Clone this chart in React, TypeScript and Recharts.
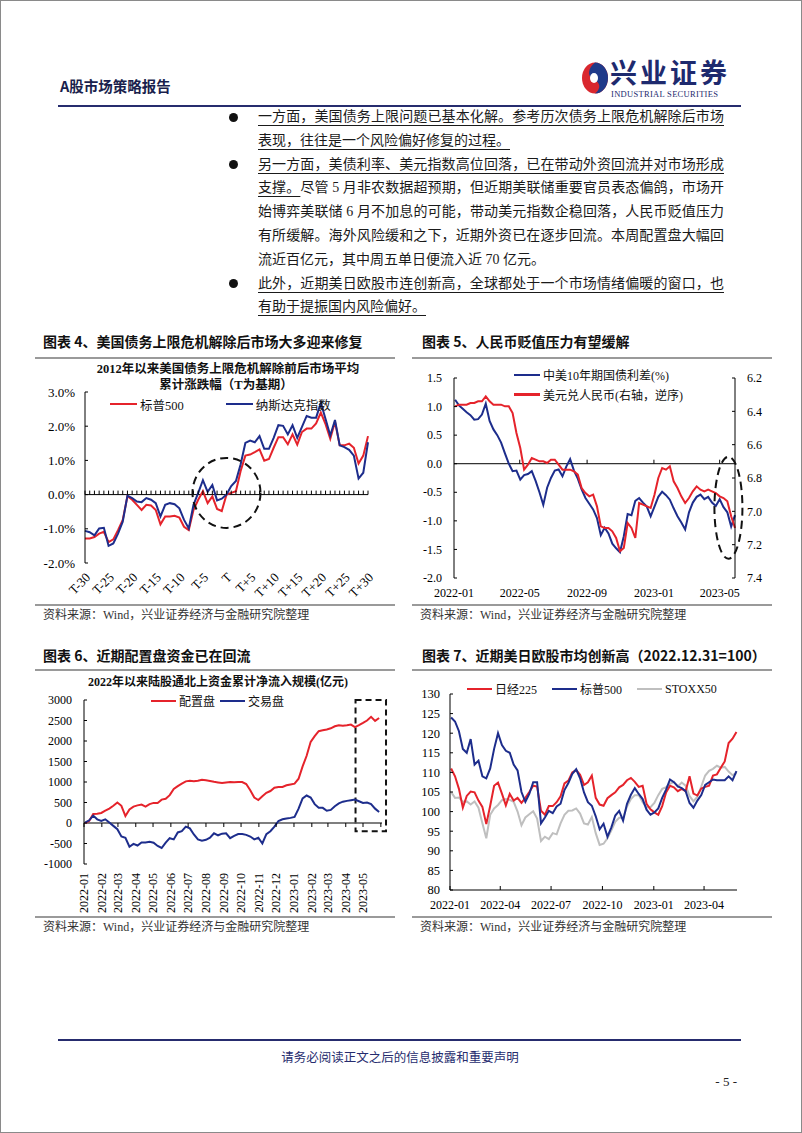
import React from 'react';
import { LineChart, Line, XAxis, YAxis, ReferenceLine, ReferenceDot, ReferenceArea, Legend } from 'recharts';

const SERIF = '"Liberation Serif", "Noto Sans CJK SC", serif';
const HEI = '"Noto Sans CJK SC", "Liberation Serif", sans-serif';
const RED = '#e5232b';
const BLUE = '#1d2d8c';
const GREY = '#bfbfbf';
const NAVY = '#262c6e';

// 图表4：T 为基期，前后 30 个交易日
const tDays = [
  'T-30', 'T-29', 'T-28', 'T-27', 'T-26', 'T-25', 'T-24', 'T-23', 'T-22', 'T-21',
  'T-20', 'T-19', 'T-18', 'T-17', 'T-16', 'T-15', 'T-14', 'T-13', 'T-12', 'T-11',
  'T-10', 'T-9', 'T-8', 'T-7', 'T-6', 'T-5', 'T-4', 'T-3', 'T-2', 'T-1',
  'T', 'T+1', 'T+2', 'T+3', 'T+4', 'T+5', 'T+6', 'T+7', 'T+8', 'T+9',
  'T+10', 'T+11', 'T+12', 'T+13', 'T+14', 'T+15', 'T+16', 'T+17', 'T+18', 'T+19',
  'T+20', 'T+21', 'T+22', 'T+23', 'T+24', 'T+25', 'T+26', 'T+27', 'T+28', 'T+29', 'T+30',
];
const sp500Cum = [
  -1.28, -1.28, -1.24, -1.14, -1.09, -1.39, -1.31, -1.04, -0.74, -0.05,
  -0.15, -0.3, -0.45, -0.3, -0.32, -0.45, -0.87, -0.64, -0.64, -0.62,
  -0.67, -0.94, -1.04, -0.45, -0.15, 0.1, -0.25, -0.05, -0.42, -0.48,
  0, 0.05, 0.1, 0.69, 1.14, 1.17, 1.24, 1.32, 0.99, 1.04,
  1.37, 1.68, 1.68, 1.47, 1.76, 1.46, 1.83, 1.93, 1.93, 2.08,
  2.4, 2.06, 1.63, 2.13, 1.44, 1.44, 1.49, 1.37, 0.91, 1.14, 1.71,
];
const nasdaqCum = [
  -1.06, -1.1, -1.19, -0.99, -0.97, -1.5, -1.43, -1.14, -0.79, -0.03,
  -0.1, -0.2, -0.22, -0.1, -0.15, -0.25, -0.64, -0.3, -0.25, -0.28,
  -0.4, -0.74, -0.99, -0.3, 0.05, 0.42, 0.08, 0.28, -0.17, -0.12,
  0, 0.25, 0.4, 0.89, 1.51, 1.58, 1.53, 1.71, 1.34, 1.34,
  1.66, 2.03, 2.01, 1.76, 2.03, 1.66, 1.98, 2.3, 2.25, 2.25,
  2.69, 2.21, 1.73, 2.18, 1.44, 1.39, 1.31, 1.14, 0.47, 0.64, 1.53,
];

// 图表5/6/7 共用的周度日期
const weeks = [
  '2022-01-03', '2022-01-10', '2022-01-17', '2022-01-24', '2022-01-31', '2022-02-07', '2022-02-14', '2022-02-21', '2022-02-28', '2022-03-07',
  '2022-03-14', '2022-03-21', '2022-03-28', '2022-04-04', '2022-04-11', '2022-04-18', '2022-04-25', '2022-05-02', '2022-05-09', '2022-05-16',
  '2022-05-23', '2022-05-30', '2022-06-06', '2022-06-13', '2022-06-20', '2022-06-27', '2022-07-04', '2022-07-11', '2022-07-18', '2022-07-25',
  '2022-08-01', '2022-08-08', '2022-08-15', '2022-08-22', '2022-08-29', '2022-09-05', '2022-09-12', '2022-09-19', '2022-09-26', '2022-10-03',
  '2022-10-10', '2022-10-17', '2022-10-24', '2022-10-31', '2022-11-07', '2022-11-14', '2022-11-21', '2022-11-28', '2022-12-05', '2022-12-12',
  '2022-12-19', '2022-12-26', '2023-01-02', '2023-01-09', '2023-01-16', '2023-01-23', '2023-01-30', '2023-02-06', '2023-02-13', '2023-02-20',
  '2023-02-27', '2023-03-06', '2023-03-13', '2023-03-20', '2023-03-27', '2023-04-03', '2023-04-10', '2023-04-17', '2023-04-24', '2023-05-01',
  '2023-05-08', '2023-05-15', '2023-05-22', '2023-05-29',
];

// 图表5
const spread10y = [
  1.12, 1.02, 0.96, 0.9, 0.85, 0.77, 0.78, 0.86, 1.05, 0.75,
  0.6, 0.5, 0.37, 0.18, 0, -0.13, -0.12, -0.28, -0.2, -0.18,
  -0.13, -0.3, -0.5, -0.72, -0.42, -0.25, -0.12, -0.1, -0.22, -0.05,
  0.08, -0.12, -0.26, -0.45, -0.6, -0.7, -0.8, -0.95, -1.25, -1.12,
  -1.22, -1.4, -1.48, -1.55, -1.27, -0.88, -0.9, -0.65, -0.6, -0.68,
  -0.75, -0.92, -0.75, -0.58, -0.49, -0.55, -0.63, -0.78, -0.92, -1.03,
  -1.15, -0.85, -0.68, -0.58, -0.54, -0.62, -0.58, -0.68, -0.74, -0.62,
  -0.76, -0.85, -1.1, -0.9,
];
const usdCny = [
  6.37, 6.36, 6.36, 6.36, 6.35, 6.35, 6.34, 6.34, 6.31, 6.34,
  6.36, 6.36, 6.36, 6.37, 6.37, 6.41, 6.53, 6.62, 6.75, 6.72,
  6.68, 6.69, 6.7, 6.7, 6.71, 6.69, 6.69, 6.72, 6.75, 6.75,
  6.75, 6.76, 6.78, 6.86, 6.89, 6.91, 6.9, 6.97, 7.09, 7.1,
  7.1, 7.12, 7.16, 7.24, 7.22, 7.07, 7.1, 7.16, 6.95, 6.96,
  6.97, 6.98, 6.9, 6.8, 6.74, 6.75, 6.73, 6.82, 6.86, 6.91,
  6.95, 6.92, 6.88, 6.85, 6.87, 6.88, 6.87, 6.88, 6.89, 6.91,
  6.92, 6.94, 7.03, 7.1,
];
const c5Ticks = ['2022-01', '2022-05', '2022-09', '2023-01', '2023-05'];

// 图表6
const allocFlow = [
  0, 50, 220, 225, 245, 300, 350, 420, 500, 420,
  170, 330, 400, 430, 450, 400, 460, 490, 490, 570,
  590, 680, 830, 900, 960, 1015, 1030, 1020, 1030, 1055,
  1040, 1025, 1005, 990, 975, 990, 1000, 995, 1000, 1000,
  950, 800, 620, 560, 650, 735, 780, 860, 880, 880,
  920, 940, 960, 1080, 1380, 1640, 1980, 2120, 2240, 2260,
  2280, 2310, 2360, 2385, 2375, 2385, 2400, 2340, 2385, 2440,
  2500, 2590, 2490, 2560,
];
const tradeFlow = [
  10, 65, 180, 90, 50, 90, 10, -70, -150, -330,
  -360, -580, -510, -550, -475, -475, -460, -480, -560, -610,
  -480, -370, -400, -230, -200, -90, -130, -280, -400, -430,
  -410, -360, -250, -300, -260, -250, -370, -315, -270, -270,
  -290, -330, -400, -360, -500, -270, -200, -90, 50, 90,
  110, 125, 150, 350, 600, 670, 620, 460, 370, 370,
  300, 320, 410, 480, 520, 540, 555, 570, 530, 490,
  500, 460, 350, 270,
];
const c6Months = [
  '2022-01', '2022-02', '2022-03', '2022-04', '2022-05', '2022-06', '2022-07', '2022-08', '2022-09',
  '2022-10', '2022-11', '2022-12', '2023-01', '2023-02', '2023-03', '2023-04', '2023-05', '2023-06',
];

// 图表7
const n225 = [
  111.0, 109.0, 105.8, 101.0, 104.0, 105.1, 104.9, 102.8, 101.2, 96.8,
  101.5, 106.6, 107.4, 104.6, 101.6, 104.5, 102.8, 103.5, 102.2, 103.5,
  105.0, 106.6, 106.4, 100.2, 99.2, 101.4, 101.4, 102.4, 103.9, 107.2,
  107.9, 110.0, 110.6, 109.4, 106.8, 107.5, 109.2, 103.5, 101.8, 101.5,
  103.4, 104.2, 104.9, 106.2, 106.8, 108.0, 108.6, 107.6, 106.3, 106.6,
  102.0, 100.6, 99.8, 99.2, 101.4, 104.9, 106.6, 106.2, 105.2, 105.8,
  105.2, 109.0, 104.6, 104.1, 105.9, 106.3, 106.6, 109.2, 109.5, 111.2,
  112.8, 117.5, 118.6, 120.3,
];
const spx = [
  124.0, 123.0, 120.5, 116.0, 115.0, 118.5, 112.0, 113.0, 109.0, 108.5,
  111.0, 116.0, 120.0, 117.0, 115.5, 115.0, 112.0, 110.5, 105.0, 102.5,
  104.5, 107.5, 107.5, 97.0, 98.5, 100.2, 99.6, 101.3, 102.0, 105.5,
  107.3, 109.6, 110.8, 108.5, 104.9, 102.4, 101.5, 98.8, 95.5, 96.9,
  93.6, 96.0, 99.0, 100.2, 97.7, 102.0, 104.3, 106.0, 104.5, 103.2,
  100.5, 99.2, 99.8, 100.8, 103.5, 105.6, 108.2, 107.5, 106.4, 106.0,
  105.2, 102.2, 101.0, 102.8, 104.2, 106.8, 107.5, 108.2, 108.0, 108.0,
  108.0, 109.0, 108.0, 110.3,
];
const stoxx50 = [
  105.0, 103.5, 103.6, 102.5, 102.6, 101.8, 102.6, 101.0, 97.0, 93.2,
  99.2, 100.8, 101.7, 102.9, 103.2, 103.0, 102.5, 100.0, 96.5, 98.5,
  99.3, 100.1, 98.2, 92.5, 93.6, 93.0, 94.5, 94.2, 97.0, 99.2,
  100.2, 100.3, 100.8, 99.5, 97.0, 96.7, 98.6, 94.5, 91.5, 91.8,
  93.2, 95.2, 97.4, 98.4, 98.4, 101.3, 103.2, 104.2, 104.2, 102.4,
  101.1, 101.1, 102.2, 104.2, 105.8, 106.2, 107.1, 107.6, 106.4, 107.4,
  106.6, 104.0, 102.6, 103.8, 106.4, 109.2, 110.4, 110.9, 111.7, 111.2,
  111.4, 110.2, 109.3, 109.8,
];
const c7Ticks = ['2022-01', '2022-04', '2022-07', '2022-10', '2023-01', '2023-04'];

const toTs = (s: string) => {
  const [y, m, d] = s.split('-').map(Number);
  return Date.UTC(y, m - 1, d || 1);
};
const ym = (t: number) => {
  const d = new Date(t);
  return `${d.getUTCFullYear()}-${String(d.getUTCMonth() + 1).padStart(2, '0')}`;
};

// ---- 刻度与标注 ----
const yTick = (side: 'left' | 'right', off: number, fmt: (v: number) => string, fs = 12) => (p: any) => {
  const s = side === 'left' ? 1 : -1;
  return (
    <g>
      <line x1={p.x} x2={p.x + s * 3} y1={p.y} y2={p.y} stroke="#000" />
      <text x={p.x - s * off} y={p.y} dy="0.35em" textAnchor={side === 'left' ? 'end' : 'start'}
        fontSize={fs} fontFamily={SERIF} fill="#000">{fmt(p.payload.value)}</text>
    </g>
  );
};
const diagTick = (p: any) => (
  <text transform={`rotate(-45 ${p.x + 3} ${p.y + 12})`} x={p.x + 3} y={p.y + 12} dy="0.35em"
    textAnchor="end" fontSize={13} fontFamily={SERIF} fill="#000">{p.payload.value}</text>
);
const vertTick = (p: any) => (
  <text transform={`rotate(-90 ${p.x + 4} ${p.y + 9})`} x={p.x + 4} y={p.y + 9}
    textAnchor="end" fontSize={12} fontFamily={SERIF} fill="#000">{ym(p.payload.value)}</text>
);
const dateTick = (dy: number, mark: boolean) => (p: any) => (
  <g>
    {mark && <line x1={p.x} x2={p.x} y1={p.y} y2={p.y - 4} stroke="#000" />}
    <text x={p.x} y={p.y + dy} dy="0.35em" textAnchor="middle" fontSize={12} fontFamily={SERIF} fill="#000">
      {ym(p.payload.value)}
    </text>
  </g>
);
const tickMark = (len: number) => (p: any) => (
  <line x1={p.cx} x2={p.cx} y1={p.cy} y2={p.cy + len} stroke="#000" strokeWidth={1} />
);
const dashedEllipse = (rx: number, ry: number) => (p: any) => (
  <ellipse cx={p.cx} cy={p.cy} rx={rx} ry={ry} fill="none" stroke="#111" strokeWidth={2} strokeDasharray="8 5" />
);

const legendContent = (order: string[], o: { sample: number; gap: number; fs: number; vertical?: boolean }) => (props: any) => {
  const pl = props.payload || [];
  const items = order.map((n) => pl.find((p: any) => p.value === n)).filter(Boolean);
  return (
    <div style={{ display: 'flex', flexDirection: o.vertical ? 'column' : 'row', gap: o.gap,
      fontFamily: SERIF, fontSize: o.fs, color: '#111', whiteSpace: 'nowrap' }}>
      {items.map((p: any) => (
        <div key={p.value} style={{ display: 'flex', alignItems: 'center', height: 16 }}>
          <div style={{ width: o.sample, height: 2.5, background: p.color }} />
          <span style={{ marginLeft: 3 }}>{p.value}</span>
        </div>
      ))}
    </div>
  );
};

const abs = (left: number, top: number): React.CSSProperties => ({ position: 'absolute', left, top });

function Chart4() {
  const data = tDays.map((t, i) => ({ t, spx: sp500Cum[i], ndx: nasdaqCum[i] }));
  return (
    <div style={abs(30, 385)}>
      <LineChart width={360} height={215} data={data} margin={{ top: 7, right: 22, bottom: 2, left: 5 }}>
        <XAxis dataKey="t" interval={4} axisLine={false} tickLine={false} tickSize={0} tickMargin={0} height={35} tick={diagTick} />
        <YAxis domain={[-2, 3]} ticks={[-2, -1, 0, 1, 2, 3]} interval={0} width={50} axisLine={{ stroke: '#000' }}
          tickLine={false} tickSize={0} tickMargin={0} tick={yTick('left', 10, (v) => v.toFixed(1) + '%', 13)} />
        <ReferenceLine y={0} stroke="#000" />
        {tDays.map((t) => <ReferenceDot key={t} x={t} y={0} r={0} shape={tickMark(-4)} />)}
        <ReferenceDot x="T" y={0.05} r={0} shape={dashedEllipse(34, 35)} />
        <Line dataKey="spx" name="标普500" stroke={RED} strokeWidth={2} dot={false} isAnimationActive={false} />
        <Line dataKey="ndx" name="纳斯达克指数" stroke={BLUE} strokeWidth={2} dot={false} isAnimationActive={false} />
        <Legend verticalAlign="middle" align="center" layout="horizontal"
          content={legendContent(['标普500', '纳斯达克指数'], { sample: 27, gap: 42, fs: 12.5 })}
          wrapperStyle={{ left: 80, top: 11, width: 'auto', height: 'auto' }} />
      </LineChart>
    </div>
  );
}

function Chart5() {
  const data = weeks.map((w, i) => ({ t: toTs(w), spread: spread10y[i], fx: usdCny[i] }));
  return (
    <div style={abs(400, 366)}>
      <LineChart width={400} height={240} data={data} margin={{ top: 12, right: 20, bottom: 3, left: 9 }}>
        <XAxis type="number" dataKey="t" domain={[toTs('2022-01-01'), toTs('2023-05-29')]}
          ticks={c5Ticks.map((m) => toTs(m))} interval={0} axisLine={false} tickLine={false}
          tickSize={0} tickMargin={0} height={25} tick={dateTick(15, false)} />
        <YAxis yAxisId="left" domain={[-2, 1.5]} ticks={[-2, -1.5, -1, -0.5, 0, 0.5, 1, 1.5]} interval={0} width={45}
          axisLine={{ stroke: '#000' }} tickLine={false} tickSize={0} tickMargin={0}
          tick={yTick('left', 12, (v) => v.toFixed(1))} />
        <YAxis yAxisId="right" orientation="right" reversed domain={[6.2, 7.4]} interval={0}
          ticks={[6.2, 6.4, 6.6, 6.8, 7.0, 7.2, 7.4]} width={45} axisLine={{ stroke: '#000' }}
          tickLine={false} tickSize={0} tickMargin={0} tick={yTick('right', 12, (v) => v.toFixed(1))} />
        <ReferenceLine yAxisId="left" y={0} stroke="#000" />
        {c5Ticks.slice(1).map((m) => (
          <ReferenceDot key={m} yAxisId="left" x={toTs(m)} y={0} r={0} shape={tickMark(-4)} />
        ))}
        <ReferenceDot yAxisId="left" x={toTs('2023-05-17')} y={-0.77} r={0} shape={dashedEllipse(14, 51)} />
        <Line yAxisId="left" dataKey="spread" name="中美10年期国债利差(%)" stroke={BLUE} strokeWidth={2}
          dot={false} isAnimationActive={false} />
        <Line yAxisId="right" dataKey="fx" name="美元兑人民币(右轴，逆序)" stroke={RED} strokeWidth={2}
          dot={false} isAnimationActive={false} />
        <Legend verticalAlign="middle" align="center" layout="horizontal"
          content={legendContent(['中美10年期国债利差(%)', '美元兑人民币(右轴，逆序)'], { sample: 26, gap: 3.5, fs: 12, vertical: true })}
          wrapperStyle={{ left: 114, top: 1, width: 'auto', height: 'auto' }} />
      </LineChart>
    </div>
  );
}

function Chart6() {
  const data = weeks.map((w, i) => ({ t: toTs(w), alloc: allocFlow[i], trade: tradeFlow[i] }));
  return (
    <div style={abs(30, 691)}>
      <LineChart width={372} height={225} data={data} margin={{ top: 9, right: 20, bottom: 2, left: 5 }}>
        <XAxis type="number" dataKey="t" domain={[toTs('2022-01-01'), toTs('2023-06-03')]}
          ticks={c6Months.slice(0, 17).map((m) => toTs(m))} interval={0} axisLine={false} tickLine={false}
          tickSize={0} tickMargin={0} height={50} tick={vertTick} />
        <YAxis domain={[-1000, 3000]} ticks={[-1000, -500, 0, 500, 1000, 1500, 2000, 2500, 3000]} interval={0} width={49}
          axisLine={{ stroke: '#000' }} tickLine={false} tickSize={0} tickMargin={0}
          tick={yTick('left', 12, (v) => String(v))} />
        <ReferenceLine y={0} stroke="#555" strokeWidth={1.5} />
        {c6Months.map((m) => <ReferenceDot key={m} x={toTs(m)} y={0} r={0} shape={tickMark(4)} />)}
        <ReferenceArea x1={toTs('2023-04-18')} x2={toTs('2023-06-10')} y1={-200} y2={3000} ifOverflow="visible"
          fill="none" fillOpacity={0} stroke="#111" strokeWidth={2} strokeDasharray="6 4" />
        <Line dataKey="alloc" name="配置盘" stroke={RED} strokeWidth={2} dot={false} isAnimationActive={false} />
        <Line dataKey="trade" name="交易盘" stroke={BLUE} strokeWidth={2} dot={false} isAnimationActive={false} />
        <Legend verticalAlign="middle" align="center" layout="horizontal"
          content={legendContent(['配置盘', '交易盘'], { sample: 25, gap: 5, fs: 12 })}
          wrapperStyle={{ left: 121, top: 2, width: 'auto', height: 'auto' }} />
      </LineChart>
    </div>
  );
}

function Chart7() {
  const data = weeks.map((w, i) => ({ t: toTs(w), n225: n225[i], spx: spx[i], stoxx: stoxx50[i] }));
  return (
    <div style={abs(400, 681)}>
      <LineChart width={400} height={235} data={data} margin={{ top: 13, right: 63, bottom: 2, left: 6 }}>
        <XAxis type="number" dataKey="t" domain={[toTs('2022-01-01'), toTs('2023-05-30')]}
          ticks={c7Ticks.map((m) => toTs(m))} interval={0} axisLine={{ stroke: '#000' }} tickLine={false}
          tickSize={0} tickMargin={0} height={24} tick={dateTick(15, true)} />
        <YAxis domain={[80, 130]} ticks={[80, 85, 90, 95, 100, 105, 110, 115, 120, 125, 130]} interval={0} width={44}
          axisLine={{ stroke: '#000' }} tickLine={false} tickSize={0} tickMargin={0}
          tick={yTick('left', 10, (v) => String(v), 12.5)} />
        <Line dataKey="stoxx" name="STOXX50" stroke={GREY} strokeWidth={2} dot={false} isAnimationActive={false} />
        <Line dataKey="n225" name="日经225" stroke={RED} strokeWidth={2} dot={false} isAnimationActive={false} />
        <Line dataKey="spx" name="标普500" stroke={BLUE} strokeWidth={2} dot={false} isAnimationActive={false} />
        <Legend verticalAlign="middle" align="center" layout="horizontal"
          content={legendContent(['日经225', '标普500', 'STOXX50'], { sample: 25, gap: 15, fs: 12 })}
          wrapperStyle={{ left: 67, top: 0, width: 'auto', height: 'auto' }} />
      </LineChart>
    </div>
  );
}

type Seg = { text: string; u?: boolean };
const bodyLines: { segs: Seg[]; bullet?: boolean; full: boolean }[] = [
  { bullet: true, full: true, segs: [{ text: '一方面，美国债务上限问题已基本化解。参考历次债务上限危机解除后市场', u: true }] },
  { full: false, segs: [{ text: '表现，往往是一个风险偏好修复的过程。', u: true }] },
  { bullet: true, full: true, segs: [{ text: '另一方面，美债利率、美元指数高位回落，已在带动外资回流并对市场形成', u: true }] },
  { full: true, segs: [{ text: '支撑。', u: true }, { text: '尽管 5 月非农数据超预期，但近期美联储重要官员表态偏鸽，市场开' }] },
  { full: true, segs: [{ text: '始博弈美联储 6 月不加息的可能，带动美元指数企稳回落，人民币贬值压力' }] },
  { full: true, segs: [{ text: '有所缓解。海外风险缓和之下，近期外资已在逐步回流。本周配置盘大幅回' }] },
  { full: false, segs: [{ text: '流近百亿元，其中周五单日便流入近 70 亿元。' }] },
  { bullet: true, full: true, segs: [{ text: '此外，近期美日欧股市连创新高，全球都处于一个市场情绪偏暖的窗口，也', u: true }] },
  { full: false, segs: [{ text: '有助于提振国内风险偏好。', u: true }] },
];

const Rule = ({ left, top, width, h = 1.5, color = '#9a9a9a' }: any) => (
  <div style={{ position: 'absolute', left, top, width, height: h, background: color }} />
);
const Title = ({ left, top, children }: any) => (
  <div style={{ ...abs(left, top), fontFamily: HEI, fontWeight: 700, fontSize: 14, lineHeight: '20px', color: '#111', whiteSpace: 'nowrap' }}>{children}</div>
);
const Source = ({ left, top }: any) => (
  <div style={{ ...abs(left, top), fontFamily: SERIF, fontSize: 12, lineHeight: '18px', color: '#333', whiteSpace: 'nowrap' }}>
    资料来源：Wind，兴业证券经济与金融研究院整理
  </div>
);
const Centered = ({ cx, top, children, fs = 12.5 }: any) => (
  <div style={{ position: 'absolute', left: cx - 200, top, width: 400, textAlign: 'center', fontFamily: SERIF,
    fontWeight: 700, fontSize: fs, lineHeight: '16px', color: '#111', whiteSpace: 'nowrap' }}>{children}</div>
);

export default function App() {
  return (
    <div style={{ position: 'absolute', left: 0, top: 0, width: 802, height: 1133, background: '#fff', overflow: 'hidden' }}>
      <div style={{ position: 'absolute', inset: 0, border: '1px solid #8a8a8a', pointerEvents: 'none' }} />

      {/* 页眉 */}
      <div style={{ ...abs(60, 76), fontFamily: HEI, fontWeight: 600, fontSize: 14.5, lineHeight: '20px', color: '#1a1f4d' }}>A股市场策略报告</div>
      <svg style={abs(580, 61)} width={30} height={34} viewBox="0 0 30 34">
        <ellipse cx={15} cy={17} rx={13} ry={15.5} fill="#d9272e" />
        <path d="M15 1.5 A13 15.5 0 0 1 15 32.5 C22 27 20 21 13 18 C7 15 8 7 15 1.5 Z" fill="#1f3a8a" />
        <ellipse cx={14} cy={17} rx={4} ry={5} fill="#fff" />
      </svg>
      <div style={{ ...abs(610, 57), fontFamily: HEI, fontWeight: 700, fontSize: 27, lineHeight: '30px', letterSpacing: 3, color: '#1e2a6e' }}>兴业证券</div>
      <div style={{ ...abs(611, 90), fontFamily: SERIF, fontSize: 8.5, lineHeight: '9px', letterSpacing: 0.3, color: '#1e2a6e' }}>INDUSTRIAL SECURITIES</div>
      <Rule left={58} top={105} width={683} h={2} color={NAVY} />

      {/* 正文 */}
      {bodyLines.map((ln, i) => {
        const cy = 117 + 23.8 * i;
        return (
          <React.Fragment key={i}>
            {ln.bullet && (
              <div style={{ position: 'absolute', left: 229, top: cy - 4.5, width: 9, height: 9, borderRadius: '50%', background: '#111' }} />
            )}
            <div style={{ position: 'absolute', left: 258, top: cy - 12, width: 466, height: 24, lineHeight: '24px',
              fontFamily: SERIF, fontSize: 14, color: '#1a1a1a', textAlign: 'justify',
              textAlignLast: ln.full ? 'justify' : 'left', whiteSpace: 'nowrap' } as React.CSSProperties}>
              {ln.segs.map((s, j) => (
                <span key={j} style={s.u ? { textDecoration: 'underline', textUnderlineOffset: 4 } : undefined}>{s.text}</span>
              ))}
            </div>
          </React.Fragment>
        );
      })}

      {/* 图表标题 */}
      <Title left={43} top={331}>图表 4、美国债务上限危机解除后市场大多迎来修复</Title>
      <Title left={422} top={331}>图表 5、人民币贬值压力有望缓解</Title>
      <Rule left={35} top={357} width={360} />
      <Rule left={412} top={357} width={360} />

      <Centered cx={228} top={361}>2012年以来美国债务上限危机解除前后市场平均</Centered>
      <Centered cx={226} top={377}>累计涨跌幅（T为基期）</Centered>
      <Chart4 />
      <Chart5 />
      <Rule left={35} top={604} width={360} />
      <Rule left={412} top={604} width={360} />
      <Source left={43} top={606} />
      <Source left={420} top={606} />

      <Title left={43} top={645}>图表 6、近期配置盘资金已在回流</Title>
      <Title left={422} top={645}>图表 7、近期美日欧股市均创新高（2022.12.31=100）</Title>
      <Rule left={35} top={669} width={360} />
      <Rule left={412} top={669} width={360} />
      <Centered cx={218} top={674} fs={12}>2022年以来陆股通北上资金累计净流入规模(亿元)</Centered>
      <Chart6 />
      <Chart7 />
      <Rule left={35} top={916} width={360} />
      <Rule left={412} top={916} width={360} />
      <Source left={43} top={918} />
      <Source left={420} top={918} />

      {/* 页脚 */}
      <Rule left={58} top={1039} width={683} h={2} color={NAVY} />
      <div style={{ position: 'absolute', left: 0, top: 1049, width: 800, textAlign: 'center', fontFamily: HEI,
        fontSize: 12.5, lineHeight: '16px', color: NAVY }}>请务必阅读正文之后的信息披露和重要声明</div>
      <div style={{ ...abs(700, 1074), width: 37, textAlign: 'right', fontFamily: SERIF, fontSize: 13, lineHeight: '16px', color: '#222' }}>- 5 -</div>
    </div>
  );
}
